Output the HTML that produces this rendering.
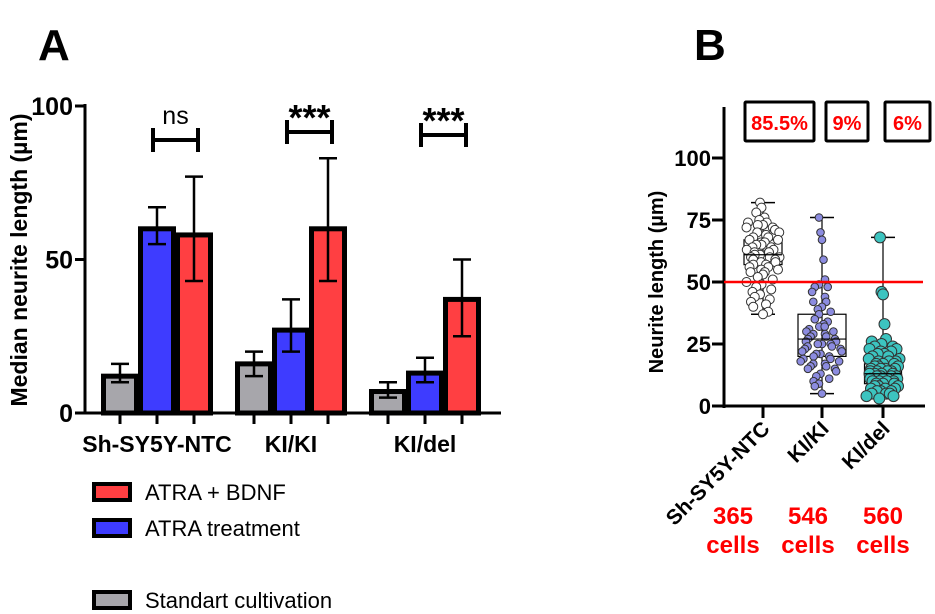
<!DOCTYPE html>
<html><head><meta charset="utf-8"><style>
html,body{margin:0;padding:0;background:#fff}
svg{display:block;font-family:"Liberation Sans",Arial,sans-serif}
</style></head><body>
<svg id="fig" width="935" height="614" viewBox="0 0 935 614">
<text x="38" y="60" font-size="44" font-weight="bold">A</text>
<text x="694" y="60" font-size="44" font-weight="bold">B</text>
<g id="pa"></g>
<g id="pb"></g>
</svg>
<script>
const groupsA=["Sh-SY5Y-NTC","KI/KI","KI/del"];
const seriesNames=["Standart cultivation","ATRA treatment","ATRA + BDNF"];
const gray=[12,16,7];
const grayLo=[10,12,5];
const grayHi=[16,20,10];
const blue=[60,27,13];
const blueLo=[55,20,10];
const blueHi=[67,37,18];
const red=[58,60,37];
const redLo=[43,43,25];
const redHi=[77,83,50];
const ticksA=[0,50,100];
const sigLabels=["ns","***","***"];

const groupsB=["Sh-SY5Y-NTC","KI/KI","KI/del"];
const pctLabels=["85.5%","9%","6%"];
const cellCounts=["365","546","560"];
const ticksB=[0,25,50,75,100];
const threshold=50;
const boxQ1=[57,20,9];
const boxQ3=[67,37,17];
const boxMed=[61,27,13];
const whiskLo=[37,5,3];
const whiskHi=[82,76,68];
const ptsNTC=[82,80,78,76,75,74,74,73,73,72,72,71,70,70,69,68,68,67,67,66,66,65,65,64,64,63,63,62,62,62,61,61,60,60,60,59,59,58,58,57,57,56,56,55,55,54,54,53,52,51,50,49,48,47,46,45,44,43,42,41,40,38,37];
const ptsKI=[76,70,67,59,51,49,48,48,46,44,42,42,40,39,38,37,35,34,33,32,32,31,30,30,29,29,28,28,27,27,26,26,25,25,25,24,24,23,23,22,22,21,21,20,20,19,19,18,18,17,17,16,16,15,15,14,13,12,11,10,9,8,5];
const ptsDel=[68,46,45,33,27,26,25,24,24,23,23,22,22,21,21,20,20,19,19,18,18,18,17,17,17,16,16,16,15,15,15,15,14,14,14,14,13,13,13,13,12,12,12,12,11,11,11,11,10,10,10,10,9,9,9,8,8,8,7,7,7,6,6,6,5,5,5,4,4,3];

const NS="http://www.w3.org/2000/svg";
function mk(parent,tag,attrs,text){const e=document.createElementNS(NS,tag);for(const k in attrs)e.setAttribute(k,attrs[k]);if(text!==undefined)e.textContent=text;parent.appendChild(e);return e;}

// Panel A
const pa=document.getElementById('pa');
const yA=v=>413-v*3.07;
const groupX=[157,291,425];
const offs=[-37,0,37];
const bw=33;
const cols=["#a7a6ab","#3e3cff","#ff3f42"];
const vals=[gray,blue,red],los=[grayLo,blueLo,redLo],his=[grayHi,blueHi,redHi];
let e;
e=mk(pa,'line',{x1:85,y1:104,x2:85,y2:414,stroke:'#000','stroke-width':3});


e=mk(pa,'line',{x1:84,y1:413,x2:501,y2:413,stroke:'#000','stroke-width':3});


ticksA.forEach(t=>{
 mk(pa,'line',{x1:75,y1:yA(t),x2:85,y2:yA(t),stroke:'#000','stroke-width':3});
 e=mk(pa,'text',{x:73,y:yA(t)+9,'font-size':25,'font-weight':'bold','text-anchor':'end'},String(t));
 
 
});
e=mk(pa,'text',{x:0,y:0,'font-size':23,'font-weight':'bold','text-anchor':'middle',transform:'translate(27,260) rotate(-90)'},'Median neurite length (µm)');


groupsA.forEach((g,gi)=>{
 for(let s=0;s<3;s++){
  const cx=groupX[gi]+offs[s];
  e=mk(pa,'rect',{x:cx-bw/2,y:yA(vals[s][gi]),width:bw,height:413-yA(vals[s][gi]),fill:cols[s],stroke:'#000','stroke-width':5});
  
  
  mk(pa,'line',{x1:cx,y1:yA(his[s][gi]),x2:cx,y2:yA(los[s][gi]),stroke:'#000','stroke-width':2.5});
  mk(pa,'line',{x1:cx-9,y1:yA(his[s][gi]),x2:cx+9,y2:yA(his[s][gi]),stroke:'#000','stroke-width':2.5});
  mk(pa,'line',{x1:cx-9,y1:yA(los[s][gi]),x2:cx+9,y2:yA(los[s][gi]),stroke:'#000','stroke-width':2.5});
  mk(pa,'line',{x1:cx,y1:413,x2:cx,y2:424,stroke:'#000','stroke-width':3});
 }
 e=mk(pa,'text',{x:groupX[gi],y:452,'font-size':23,'font-weight':'bold','text-anchor':'middle'},g);
 
 
 const x1=groupX[gi]+offs[1]-4,x2=groupX[gi]+offs[2]+4;
 const yb=gi===0?140:(gi===1?132:135);
 mk(pa,'line',{x1:x1,y1:yb,x2:x2,y2:yb,stroke:'#000','stroke-width':4});
 mk(pa,'line',{x1:x1,y1:yb-12,x2:x1,y2:yb+12,stroke:'#000','stroke-width':4});
 mk(pa,'line',{x1:x2,y1:yb-12,x2:x2,y2:yb+12,stroke:'#000','stroke-width':4});
 e=mk(pa,'text',{x:(x1+x2)/2,y:gi===0?124:yb-2,'font-size':gi===0?25:36,'font-weight':gi===0?'normal':'bold','text-anchor':'middle'},sigLabels[gi]);
 
 
});
// legend
const legY=[492,528,600];const legS=[2,1,0];
legY.forEach((ly,i)=>{
 const s=legS[i];
 e=mk(pa,'rect',{x:94,y:ly-8,width:36,height:16,fill:cols[s],stroke:'#000','stroke-width':4});
 
 
 e=mk(pa,'text',{x:145,y:ly+8,'font-size':22},seriesNames[s]);
 
 
});

// Panel B
const pb=document.getElementById('pb');
const yB=v=>406-v*2.48;
const gxB=[763,822,883];
e=mk(pb,'line',{x1:724,y1:107,x2:724,y2:408,stroke:'#000','stroke-width':3});


e=mk(pb,'line',{x1:712,y1:406,x2:925,y2:406,stroke:'#000','stroke-width':3});


ticksB.forEach(t=>{
 mk(pb,'line',{x1:712,y1:yB(t),x2:724,y2:yB(t),stroke:'#000','stroke-width':3});
 e=mk(pb,'text',{x:711,y:yB(t)+8,'font-size':22,'font-weight':'bold','text-anchor':'end'},String(t));
 
 
});
e=mk(pb,'text',{x:0,y:0,'font-size':20,'font-weight':'bold','text-anchor':'middle',transform:'translate(663,282) rotate(-90)'},'Neurite length (µm)');


const boxW=[38,48,37];
const ptFill=["#ffffff","#8c8ce0","#3cc4c0"];
const ptR=[4.5,3.8,5.5];
const ptsAll=[ptsNTC,ptsKI,ptsDel];
groupsB.forEach((g,gi)=>{
 const cx=gxB[gi];
 mk(pb,'line',{x1:cx,y1:406,x2:cx,y2:418,stroke:'#000','stroke-width':3});
 mk(pb,'line',{x1:cx,y1:yB(whiskHi[gi]),x2:cx,y2:yB(whiskLo[gi]),stroke:'#000','stroke-width':1.2});
 mk(pb,'line',{x1:cx-12,y1:yB(whiskHi[gi]),x2:cx+12,y2:yB(whiskHi[gi]),stroke:'#000','stroke-width':1.5});
 mk(pb,'line',{x1:cx-12,y1:yB(whiskLo[gi]),x2:cx+12,y2:yB(whiskLo[gi]),stroke:'#000','stroke-width':1.5});
 e=mk(pb,'rect',{x:cx-boxW[gi]/2,y:yB(boxQ3[gi]),width:boxW[gi],height:yB(boxQ1[gi])-yB(boxQ3[gi]),fill:'none',stroke:'#000','stroke-width':1.2});
 
 
 const arr=ptsAll[gi];const cnt={};
 const half=boxW[gi]/2-2;
 arr.forEach((v,i)=>{
  const k=Math.round(v/4);cnt[k]=(cnt[k]||0)+1;const n=cnt[k];
  let dx=((n%2?1:-1)*Math.ceil((n-1)/2))*ptR[gi]*1.5+((i%5)-2)*1.5;
  if(Math.abs(dx)>half) dx=((dx>0?1:-1)*((Math.abs(dx)*7)%half));
  const c=mk(pb,'circle',{cx:cx+dx,cy:yB(v),r:ptR[gi],fill:ptFill[gi],stroke:'#333','stroke-width':1});
  
  
 });
 mk(pb,'line',{x1:cx-boxW[gi]/2,y1:yB(boxMed[gi]),x2:cx+boxW[gi]/2,y2:yB(boxMed[gi]),stroke:'#000','stroke-width':1.2});
 e=mk(pb,'text',{x:0,y:0,'font-size':21,'font-weight':'bold','text-anchor':'end',transform:`translate(${cx+8},${430}) rotate(-45)`},g);
 
 
 const lx=[733,808,883][gi];
 e=mk(pb,'text',{x:lx,y:524,'font-size':24,'font-weight':'bold',fill:'#ff0000','text-anchor':'middle'},cellCounts[gi]);
 
 
 e=mk(pb,'text',{x:lx,y:553,'font-size':24,'font-weight':'bold',fill:'#ff0000','text-anchor':'middle'},'cells');
 
 
});
e=mk(pb,'line',{x1:724,y1:yB(threshold),x2:923,y2:yB(threshold),stroke:'#ff0000','stroke-width':2.5});


const pbx=[[745,814],[826,868],[885,930]];
pbx.forEach((b,i)=>{
 e=mk(pb,'rect',{x:b[0],y:102,width:b[1]-b[0],height:39,fill:'#fff',stroke:'#000','stroke-width':3,rx:1});
 
 
 e=mk(pb,'text',{x:(b[0]+b[1])/2,y:130,'font-size':20,'font-weight':'bold',fill:'#ff0000','text-anchor':'middle'},pctLabels[i]);
 
 
});
</script>
</body></html>
